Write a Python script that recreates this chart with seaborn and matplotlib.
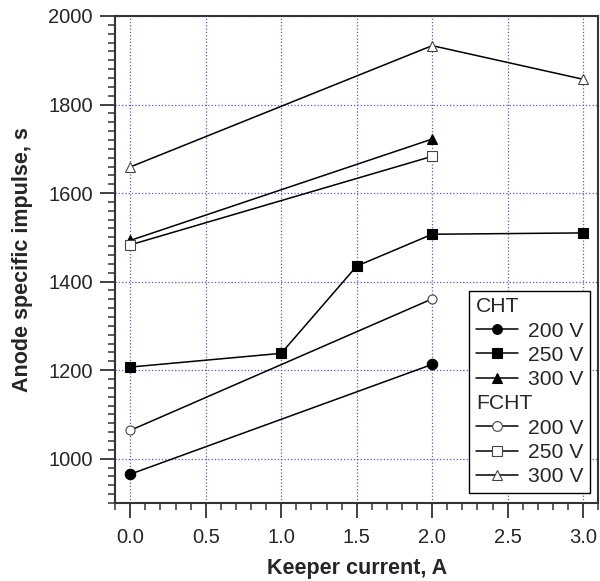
import numpy as np
import pandas as pd
import seaborn as sns
import matplotlib.pyplot as plt
from matplotlib.lines import Line2D
from matplotlib.ticker import MultipleLocator

# Daten
cht_200_x = [0, 2]
cht_200_y = [965, 1213]
cht_250_x = [0, 1, 1.5, 2, 3]
cht_250_y = [1207, 1238, 1435, 1507, 1510]
cht_300_x = [0, 2]
cht_300_y = [1493, 1722]
fcht_200_x = [0, 2]
fcht_200_y = [1064, 1361]
fcht_250_x = [0, 2]
fcht_250_y = [1483, 1683]
fcht_300_x = [0, 2, 3]
fcht_300_y = [1659, 1933, 1857]

sns.set_style("ticks")
plt.rcParams['font.family'] = ['Liberation Sans', 'DejaVu Sans']

fig = plt.figure(figsize=(6, 5.81), dpi=100)
ax = fig.add_axes([0.192, 0.1343, 0.805, 0.8382])

series = [
    (cht_200_x, cht_200_y, 'o', 'k', 7.5),
    (cht_250_x, cht_250_y, 's', 'k', 7.5),
    (cht_300_x, cht_300_y, '^', 'k', 7.5),
    (fcht_200_x, fcht_200_y, 'o', 'white', 6.5),
    (fcht_250_x, fcht_250_y, 's', 'white', 6.5),
    (fcht_300_x, fcht_300_y, '^', 'white', 7),
]
for xs, ys, m, fc, ms in series:
    sns.lineplot(x=xs, y=ys, ax=ax, color='k', lw=1.1, marker=m, ms=ms,
                 mfc=fc, mec='k' if fc == 'k' else '#444444', mew=0.8,
                 zorder=3)

ax.set_xlim(-0.1, 3.1)
ax.set_ylim(900, 2000)
ax.xaxis.set_major_locator(MultipleLocator(0.5))
ax.xaxis.set_minor_locator(MultipleLocator(0.1))
ax.yaxis.set_major_locator(MultipleLocator(200))
ax.yaxis.set_minor_locator(MultipleLocator(20))
ax.set_yticks([1000, 1200, 1400, 1600, 1800, 2000])
ax.xaxis.set_major_formatter(plt.FormatStrFormatter('%.1f'))

ax.grid(True, which='major', color='#5555ee', ls=':', lw=0.9)
ax.set_axisbelow(True)
for s in ax.spines.values():
    s.set_color('#333333')
    s.set_linewidth(1.5)
ax.tick_params(which='major', direction='out', length=11, width=1.3,
               labelsize=14.5, color='#333333')
ax.tick_params(axis='x', which='major', pad=7)
ax.tick_params(axis='y', which='major', pad=5)
ax.tick_params(which='minor', direction='out', length=5, width=1.1,
               color='#333333')

ax.set_xlabel("Keeper current, A", fontsize=15.5, fontweight='bold', labelpad=8)
ax.set_ylabel("Anode specific impulse, s", fontsize=15.5, fontweight='bold', labelpad=11)

def h(m, fc):
    return Line2D([], [], color='k', lw=1.1, marker=m, ms=7, mfc=fc,
                  mec='k' if fc == 'k' else '#444444', mew=0.8)

blank = Line2D([], [], color='none')
handles = [blank, h('o', 'k'), h('s', 'k'), h('^', 'k'),
           blank, h('o', 'white'), h('s', 'white'), h('^', 'white')]
labels = ['CHT', '200 V', '250 V', '300 V', 'FCHT', '200 V', '250 V', '300 V']
leg = ax.legend(handles, labels, loc='lower right',
                bbox_to_anchor=(0.9834, 0.0205),
                borderaxespad=0, fontsize=15.2, frameon=True, fancybox=False,
                edgecolor='k', framealpha=1, handlelength=2.0, handletextpad=0.45,
                labelspacing=0.25, borderpad=0.32)
leg.get_frame().set_linewidth(1.0)
for hp in leg._legend_handle_box.get_children()[0].get_children():
    da, txt = hp.get_children()
    if txt.get_children()[0].get_text() in ('CHT', 'FCHT'):
        da.set_width(0)
        hp.sep = 0

fig.savefig("out.png", dpi=100)
